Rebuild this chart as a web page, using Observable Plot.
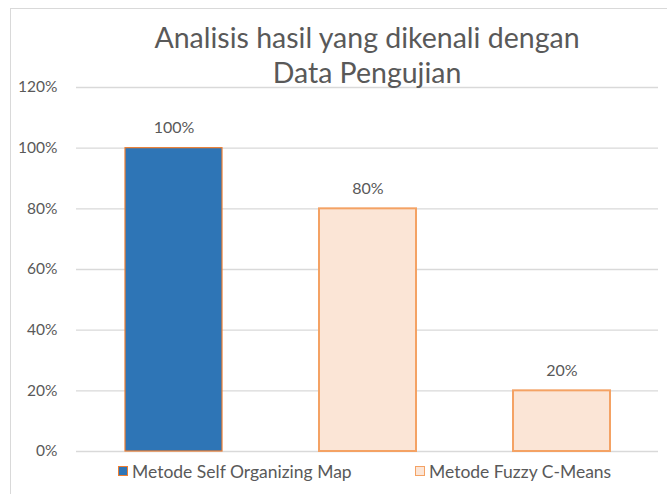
<!DOCTYPE html>
<html>
<head>
<meta charset="utf-8">
<script src="https://cdn.jsdelivr.net/npm/d3@7"></script>
<script src="https://cdn.jsdelivr.net/npm/@observablehq/plot@0.6"></script>
<style>
  html, body { margin: 0; padding: 0; background: #fff; }
  #wrap { position: relative; width: 667px; height: 494px; overflow: hidden; font-family: Lato, "Open Sans", sans-serif; }
  #frame { position: absolute; left: 10px; top: 8px; width: 700px; height: 600px; border: 1px solid #d9d9d9; box-sizing: border-box; }
  #title { position: absolute; left: 66px; width: 602px; top: 20px; text-align: center; font-size: 28.5px; line-height: 35px; color: #595959; }
  #legend { position: absolute; left: 0; width: 667px; top: 461px; font-size: 17.5px; color: #595959; }
  .li { position: absolute; top: 0; white-space: nowrap; display: flex; align-items: center; height: 20px; }
  .sw { width: 10px; height: 10px; margin-right: 4px; box-sizing: border-box; }
  #chart { position: absolute; left: 0; top: 0; }
</style>
</head>
<body>
<div id="wrap">
  <div id="frame"></div>
  <div id="chart"></div>
  <div id="title">Analisis hasil yang dikenali dengan<br>Data Pengujian</div>
  <div id="legend"></div>
</div>
<script>
const categories = ["A", "B", "C"];
const values = [100, 80, 20];
const series = ["Metode Self Organizing Map", "Metode Fuzzy C-Means", "Metode Fuzzy C-Means"];
const seriesNames = ["Metode Self Organizing Map", "Metode Fuzzy C-Means"];
const fills = ["#2E75B6", "#FBE5D6"];
const strokes = ["#ED7D31", "#F4A264"];
const yTicks = [0, 20, 40, 60, 80, 100, 120];

const data = categories.map((c, i) => ({cat: c, value: values[i], series: series[i]}));

const plot = Plot.plot({
  width: 667,
  height: 494,
  marginTop: 87,
  marginBottom: 43,
  marginLeft: 76,
  marginRight: 9,
  style: {fontFamily: "Lato, 'Open Sans', sans-serif", fontSize: "15px", color: "#595959", background: "transparent"},
  x: {domain: categories, paddingInner: 0.5, paddingOuter: 0.25, axis: null},
  y: {domain: [0, 120], ticks: yTicks, tickFormat: d => d + "%", label: null},
  color: {domain: seriesNames, range: fills},
  marks: [
    Plot.ruleY(yTicks, {stroke: "#d9d9d9", strokeWidth: 1.3}),
    Plot.axisY({ticks: yTicks, tickFormat: d => d + "%", tickSize: 0, tickPadding: 19, fontSize: 15.5, fill: "#595959", label: null}),
    Plot.barY(data, {x: "cat", y: "value", fill: "series",
      stroke: d => strokes[seriesNames.indexOf(d.series)], strokeWidth: d => d.series === seriesNames[0] ? 1.2 : 2}),
    Plot.text(data, {x: "cat", y: "value", text: d => d.value + "%", dy: -20, fontSize: 16, fill: "#595959"})
  ]
});
document.getElementById("chart").appendChild(plot);

const legend = document.getElementById("legend");
const lx = [118, 415];
seriesNames.forEach((s, i) => {
  const el = document.createElement("div");
  el.className = "li";
  el.style.left = lx[i] + "px";
  const sw = document.createElement("span");
  sw.className = "sw";
  sw.style.background = fills[i];
  sw.style.border = "1.5px solid " + strokes[i];
  el.appendChild(sw);
  el.appendChild(document.createTextNode(s));
  legend.appendChild(el);
});
</script>
</body>
</html>
